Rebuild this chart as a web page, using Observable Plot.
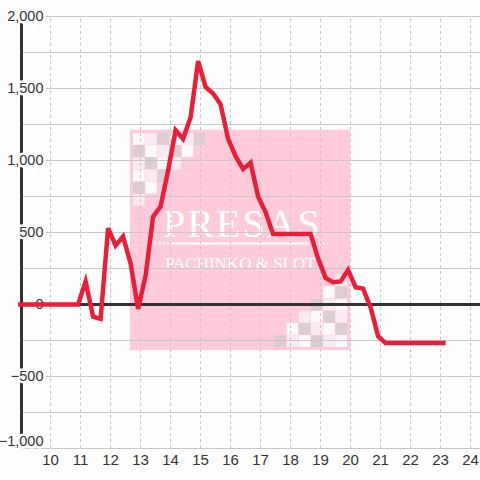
<!DOCTYPE html>
<html><head><meta charset="utf-8">
<script src="https://cdn.jsdelivr.net/npm/d3@7"></script>
<script src="https://cdn.jsdelivr.net/npm/@observablehq/plot@0.6"></script>
<style>body{margin:0;background:#fdfefd}</style>
</head><body><div id="chart"></div>
<script>
// series
const hours  = [8.92, 10.92, 11.17, 11.42, 11.67, 11.92, 12.17, 12.42, 12.67, 12.92, 13.17, 13.42, 13.67, 13.92, 14.17, 14.42, 14.67, 14.92, 15.17, 15.42, 15.67, 15.92, 16.17, 16.42, 16.67, 16.92, 17.17, 17.42, 18.67, 18.92, 19.17, 19.42, 19.67, 19.92, 20.17, 20.42, 20.67, 20.92, 21.17, 23.17];
const values = [0, 0, 160, -85, -100, 530, 410, 472, 285, -30, 200, 610, 680, 930, 1210, 1150, 1300, 1690, 1510, 1465, 1390, 1150, 1030, 940, 985, 750, 640, 490, 490, 320, 185, 155, 160, 240, 120, 110, -20, -220, -268, -268];
// ticks
const xTicks = [10, 11, 12, 13, 14, 15, 16, 17, 18, 19, 20, 21, 22, 23, 24];
const yTicks = [-1000, -500, 0, 500, 1000, 1500, 2000];
const yGrid  = [-1000, -750, -500, -250, 0, 250, 500, 750, 1000, 1250, 1500, 1750, 2000];
// watermark (background image of the original)
const wmBox = {x1: 12.667, x2: 20.0, y1: -320, y2: 1210};
const wmTitle = "PRESAS";
const wmSub = "PACHINKO & SLOT";
const wmPattern = [
  ["W", "L", "G", "W", "L", "G"],
  ["G", "W", "L", "G", "W"],
  ["L", "G", "W", "L"],
  ["W", "L", "G"],
  ["G", "W"],
  ["L"]
];
const wmShades = {W: "#fefafc", L: "#fbeaf3", G: "#dccdd1"};

const data = hours.map((h, i) => ({h, v: values[i]}));
const bg = "#fdfefd";
const cw = 0.4067, ch = 84.7;
const cells = [];
wmPattern.forEach((row, r) => row.forEach((s, c) => {
  const x0 = 12.767 + c * cw, y0 = 1187.5 - r * ch;
  cells.push({x1: x0, x2: x0 + cw - 0.02, y1: y0 - ch + 3, y2: y0, s});
  const x3 = 19.9 - c * cw, y3 = -298.6 + r * ch;
  cells.push({x1: x3 - cw + 0.02, x2: x3, y1: y3, y2: y3 + ch - 3, s});
}));

const fmt = d3.format(",");
const labelStyle = {textAnchor: "end", fontSize: 14.5, fill: "#333", stroke: bg, strokeWidth: 5};

const chart = Plot.plot({
  width: 480, height: 480,
  marginLeft: 46, marginRight: 0, marginTop: 16, marginBottom: 32,
  style: {background: bg, fontFamily: "Liberation Sans, Arial, sans-serif"},
  x: {domain: [9.8667, 24.3333], axis: null},
  y: {domain: [-1000, 2000], axis: null},
  marks: [
    Plot.rect([wmBox], {x1: "x1", x2: "x2", y1: "y1", y2: "y2", fill: "#ffcbdb"}),
    Plot.rect(cells, {x1: "x1", x2: "x2", y1: "y1", y2: "y2", fill: d => wmShades[d.s]}),
    Plot.text([wmTitle], {x: 16.4, y: 472, text: d => d, fill: "white", fontSize: 40, fontFamily: "Liberation Serif, Times New Roman, serif", lineAnchor: "bottom", textAnchor: "middle"}),
    Plot.ruleY([424], {x1: 14.1, x2: 18.567, stroke: "white", strokeWidth: 2}),
    Plot.ruleY([424], {x1: 13.5, x2: 14.1, stroke: "white", strokeWidth: 2, strokeDasharray: "2,2"}),
    Plot.ruleY([424], {x1: 18.567, x2: 19.267, stroke: "white", strokeWidth: 2, strokeDasharray: "2,2"}),
    Plot.text([wmSub], {x: 16.33, y: 245, text: d => d, fill: "white", fontSize: 17, fontFamily: "Liberation Serif, Times New Roman, serif", lineAnchor: "bottom", textAnchor: "middle"}),
    // grid
    Plot.ruleY(yGrid, {x1: 9.067, x2: 24.3333, stroke: "#c8c8c8", strokeWidth: 1}),
    Plot.ruleX(xTicks, {y1: -1000, y2: 2000, stroke: "#c8c8c8", strokeWidth: 1, strokeDasharray: "3,3"}),
    // axis line and zero line
    Plot.ruleX([9.033], {y1: -1000, y2: 2000, stroke: "#333", strokeWidth: 3}),
    Plot.ruleY([0], {x1: 9.0, x2: 24.3333, stroke: "#333", strokeWidth: 3}),
    // y labels with halo (bottom one kept inside the plot)
    Plot.text(yTicks.filter(d => d > -1000), {x: 9.767, y: d => d, text: d => fmt(d), ...labelStyle}),
    Plot.text(yTicks.filter(d => d === -1000), {x: 9.767, y: d => d, dy: -7, text: d => fmt(d), ...labelStyle}),
    // x labels
    Plot.text(xTicks, {x: d => d, y: -1090, dy: -1, text: d => String(d), textAnchor: "middle", fontSize: 15, fill: "#333"}),
    // series line
    Plot.line(data, {x: "h", y: "v", stroke: "#eb1e37", strokeWidth: 4.5, strokeLinejoin: "miter", strokeLinecap: "butt", strokeMiterlimit: 4})
  ]
});
chart.querySelectorAll("text").forEach(t => {
  if (t.textContent === wmTitle) t.setAttribute("letter-spacing", "2");
});
document.getElementById("chart").appendChild(chart);
</script>
</body></html>
